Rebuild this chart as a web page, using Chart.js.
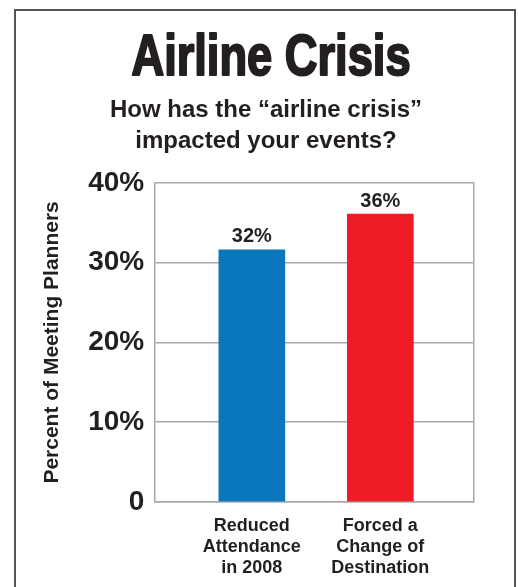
<!DOCTYPE html>
<html>
<head>
<meta charset="utf-8">
<script src="https://cdn.jsdelivr.net/npm/chart.js@4/dist/chart.umd.min.js"></script>
<style>
  html, body { margin: 0; padding: 0; background: #fff; }
  #wrap { position: relative; width: 518px; height: 587px; overflow: hidden; }
  #frame { position: absolute; left: 14px; top: 9px; width: 502px; height: 620px;
           box-sizing: border-box; border: 2px solid #555; border-bottom: none; pointer-events: none; }
  canvas { position: absolute; left: 0; top: 0; }
</style>
</head>
<body>
<div id="wrap">
  <canvas id="c" width="518" height="587"></canvas>
  <div id="frame"></div>
</div>
<script>
// ---- data ----
const titleText = 'Airline Crisis';
const subtitleLines = ['How has the \u201Cairline crisis\u201D', 'impacted your events?'];
const yAxisTitle = 'Percent of Meeting Planners';
const categories = [
  ['Reduced', 'Attendance', 'in 2008'],
  ['Forced a', 'Change of', 'Destination']
];
const values = [31.6, 36.1];
const barColors = ['#0a77bd', '#ee1d25'];
const yTicks = [0, 10, 20, 30, 40];

const textColor = '#231f20';
const gridColor = '#a9a9a9';
const X_MIN = -0.752, X_MAX = 1.729;
const FONT = '"Liberation Sans", Arial, Helvetica, sans-serif';

const headingPlugin = {
  id: 'heading',
  afterDraw(chart) {
    const ctx = chart.ctx;
    ctx.save();
    ctx.fillStyle = textColor;
    ctx.strokeStyle = textColor;
    ctx.textAlign = 'center';
    ctx.textBaseline = 'alphabetic';
    // condensed heavy title
    ctx.save();
    ctx.translate(271, 75);
    ctx.scale(0.78, 1);
    ctx.font = 'bold 58px ' + FONT;
    ctx.lineWidth = 2.2;
    ctx.lineJoin = 'round';
    ctx.fillText(titleText, 0, 0);
    ctx.strokeText(titleText, 0, 0);
    ctx.restore();
    // subtitle
    ctx.font = 'bold 24px ' + FONT;
    subtitleLines.forEach((line, i) => ctx.fillText(line, 266, 116.5 + i * 31.7));
    ctx.restore();
  }
};

const valueLabelPlugin = {
  id: 'valueLabels',
  afterDatasetsDraw(chart) {
    const ctx = chart.ctx;
    const meta = chart.getDatasetMeta(0);
    ctx.save();
    ctx.font = 'bold 20px ' + FONT;
    ctx.fillStyle = textColor;
    ctx.textAlign = 'center';
    ctx.textBaseline = 'alphabetic';
    meta.data.forEach((bar, i) => {
      ctx.fillText(Math.round(values[i]) + '%', bar.x, bar.y - 7.5);
    });
    ctx.restore();
  }
};

new Chart(document.getElementById('c'), {
  type: 'bar',
  data: {
    datasets: [{
      data: values.map((v, i) => ({ x: i, y: v })),
      backgroundColor: barColors,
      borderWidth: 0,
      barThickness: 66
    }]
  },
  options: {
    responsive: false,
    animation: false,
    devicePixelRatio: 1,
    layout: { padding: { left: 0, right: 44, top: 183, bottom: -6 } },
    plugins: {
      legend: { display: false },
      tooltip: { enabled: false },
      title: { display: false },
      subtitle: { display: false }
    },
    scales: {
      x: {
        type: 'linear',
        min: X_MIN,
        max: X_MAX,
        offset: false,
        afterBuildTicks(scale) {
          scale.ticks = categories.map((c, i) => ({ value: i })).concat([{ value: X_MAX }]);
        },
        grid: {
          display: true,
          offset: false,
          drawTicks: false,
          lineWidth: 1.5,
          color: (c) => (c.tick && c.tick.value === X_MAX) ? gridColor : 'rgba(0,0,0,0)'
        },
        border: { display: true, color: gridColor, width: 1.5 },
        ticks: {
          color: textColor,
          padding: 14,
          maxRotation: 0,
          autoSkip: false,
          font: { family: FONT, size: 18, weight: 'bold', lineHeight: 1.17 },
          callback: (v) => categories[v] || ''
        }
      },
      y: {
        min: 0,
        max: 40,
        afterBuildTicks(scale) { scale.ticks = yTicks.map(v => ({ value: v })); },
        grid: { color: gridColor, lineWidth: 1.5, drawTicks: false },
        border: { display: true, color: gridColor, width: 1.5 },
        ticks: {
          color: textColor,
          padding: 11,
          font: { family: FONT, size: 28, weight: 'bold', lineHeight: 1.2 },
          callback: (v) => v === 0 ? '0' : v + '%'
        },
        title: {
          display: true,
          text: yAxisTitle,
          color: textColor,
          font: { family: FONT, size: 21, weight: 'bold', lineHeight: 1.2 },
          padding: { top: 40, bottom: 12 }
        }
      }
    }
  },
  plugins: [valueLabelPlugin, headingPlugin]
});
</script>
</body>
</html>
